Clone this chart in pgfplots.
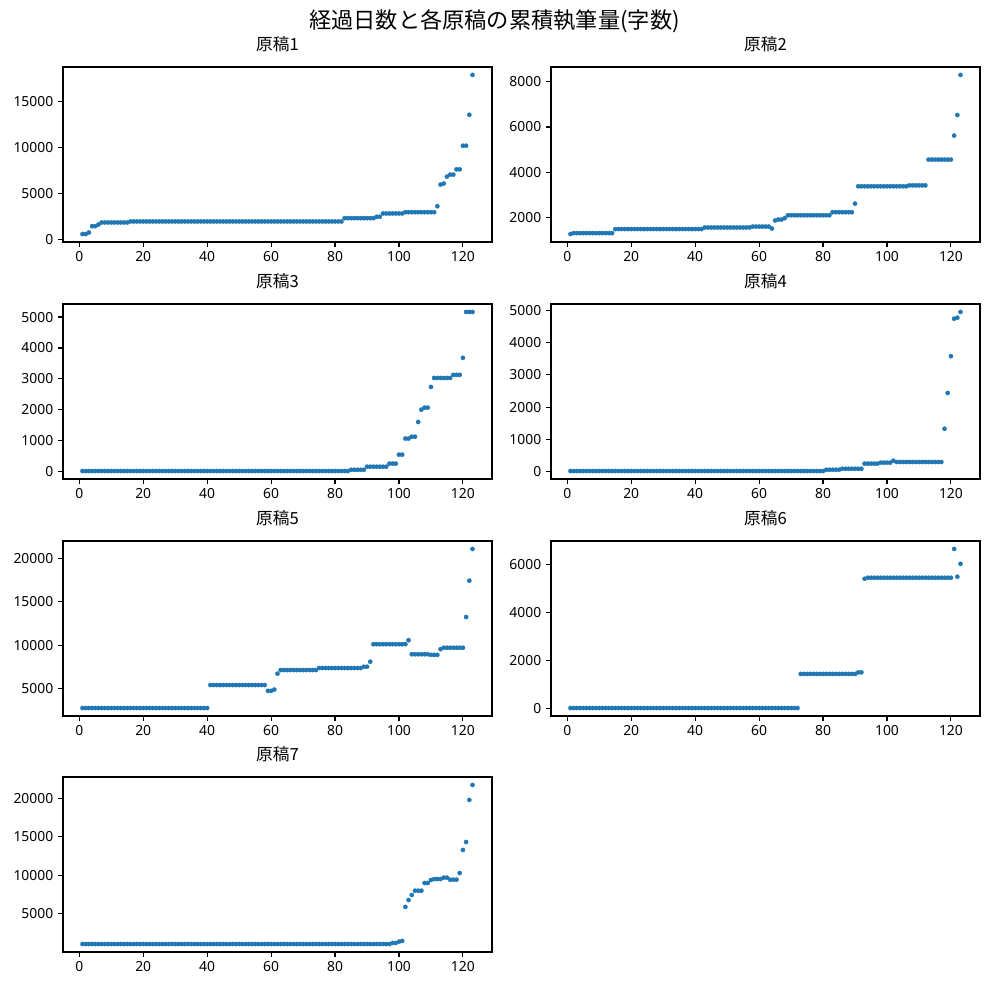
\documentclass[border=0pt]{standalone}
\usepackage{fontspec}
\setmainfont{Noto Sans CJK JP}
\newfontfamily\tickfont{Noto Sans}
\usepackage{pgfplots}
\usepackage{pgfplotstable}
\pgfplotsset{compat=1.18}
\definecolor{mplblue}{HTML}{1F77B4}
\pgfplotstableread{
x s1 s2 s3 s4 s5 s6 s7
1 550 1270 20 20 2750 30 1100
2 550 1310 20 20 2750 30 1100
3 720 1310 20 20 2750 30 1100
4 1410 1310 20 20 2750 30 1100
5 1410 1310 20 20 2750 30 1100
6 1590 1310 20 20 2750 30 1100
7 1810 1310 20 20 2750 30 1100
8 1810 1310 20 20 2750 30 1100
9 1810 1310 20 20 2750 30 1100
10 1810 1310 20 20 2750 30 1100
11 1810 1310 20 20 2750 30 1100
12 1810 1310 20 20 2750 30 1100
13 1810 1310 20 20 2750 30 1100
14 1810 1310 20 20 2750 30 1100
15 1810 1490 20 20 2750 30 1100
16 1920 1490 20 20 2750 30 1100
17 1920 1490 20 20 2750 30 1100
18 1920 1490 20 20 2750 30 1100
19 1920 1490 20 20 2750 30 1100
20 1920 1490 20 20 2750 30 1100
21 1920 1490 20 20 2750 30 1100
22 1920 1490 20 20 2750 30 1100
23 1920 1490 20 20 2750 30 1100
24 1920 1490 20 20 2750 30 1100
25 1920 1490 20 20 2750 30 1100
26 1920 1490 20 20 2750 30 1100
27 1920 1490 20 20 2750 30 1100
28 1920 1490 20 20 2750 30 1100
29 1920 1490 20 20 2750 30 1100
30 1920 1490 20 20 2750 30 1100
31 1920 1490 20 20 2750 30 1100
32 1920 1490 20 20 2750 30 1100
33 1920 1490 20 20 2750 30 1100
34 1920 1490 20 20 2750 30 1100
35 1920 1490 20 20 2750 30 1100
36 1920 1490 20 20 2750 30 1100
37 1920 1490 20 20 2750 30 1100
38 1920 1490 20 20 2750 30 1100
39 1920 1490 20 20 2750 30 1100
40 1920 1490 20 20 2750 30 1100
41 1920 1490 20 20 5400 30 1100
42 1920 1490 20 20 5400 30 1100
43 1920 1560 20 20 5400 30 1100
44 1920 1560 20 20 5400 30 1100
45 1920 1560 20 20 5400 30 1100
46 1920 1560 20 20 5400 30 1100
47 1920 1560 20 20 5400 30 1100
48 1920 1560 20 20 5400 30 1100
49 1920 1560 20 20 5400 30 1100
50 1920 1560 20 20 5400 30 1100
51 1920 1560 20 20 5400 30 1100
52 1920 1560 20 20 5400 30 1100
53 1920 1560 20 20 5400 30 1100
54 1920 1560 20 20 5400 30 1100
55 1920 1560 20 20 5400 30 1100
56 1920 1560 20 20 5400 30 1100
57 1920 1560 20 20 5400 30 1100
58 1920 1600 20 20 5400 30 1100
59 1920 1600 20 20 4730 30 1100
60 1920 1600 20 20 4730 30 1100
61 1920 1600 20 20 4880 30 1100
62 1920 1600 20 20 6710 30 1100
63 1920 1600 20 20 7130 30 1100
64 1920 1515 20 20 7130 30 1100
65 1920 1870 20 20 7130 30 1100
66 1920 1910 20 20 7130 30 1100
67 1920 1910 20 20 7130 30 1100
68 1920 1970 20 20 7130 30 1100
69 1920 2100 20 20 7130 30 1100
70 1920 2100 20 20 7130 30 1100
71 1920 2100 20 20 7130 30 1100
72 1920 2100 20 20 7130 30 1100
73 1920 2100 20 20 7130 1445 1100
74 1920 2100 20 20 7130 1445 1100
75 1920 2100 20 20 7360 1445 1100
76 1920 2100 20 20 7360 1445 1100
77 1920 2100 20 20 7360 1445 1100
78 1920 2100 20 20 7360 1445 1100
79 1920 2100 20 20 7360 1445 1100
80 1920 2100 20 20 7360 1445 1100
81 1920 2100 20 60 7360 1445 1100
82 1920 2100 20 60 7360 1445 1100
83 2280 2235 20 60 7360 1445 1100
84 2280 2235 20 60 7360 1445 1100
85 2280 2235 60 60 7360 1445 1100
86 2280 2235 60 90 7360 1445 1100
87 2280 2235 60 90 7360 1445 1100
88 2280 2235 60 90 7360 1445 1100
89 2280 2235 60 90 7510 1445 1100
90 2280 2615 160 90 7510 1445 1100
91 2280 3380 160 90 8090 1510 1100
92 2280 3380 160 90 10110 1510 1100
93 2430 3380 160 250 10110 5394 1100
94 2430 3380 160 250 10110 5435 1100
95 2790 3380 160 250 10110 5435 1100
96 2790 3380 160 250 10110 5435 1100
97 2790 3380 260 250 10110 5435 1100
98 2790 3380 260 280 10110 5435 1240
99 2790 3380 260 280 10110 5435 1240
100 2790 3380 550 280 10110 5435 1410
101 2790 3380 550 280 10110 5435 1500
102 2930 3380 1070 340 10110 5435 5910
103 2930 3380 1070 300 10570 5435 6800
104 2930 3380 1130 300 8950 5435 7450
105 2930 3380 1130 300 8950 5435 8010
106 2930 3380 1606 300 8950 5435 8010
107 2930 3420 2005 300 8950 5435 8010
108 2930 3420 2070 300 8950 5435 9010
109 2930 3420 2070 300 8950 5435 9010
110 2930 3420 2740 300 8880 5435 9400
111 2930 3420 3030 300 8880 5435 9520
112 3580 3420 3030 300 8880 5435 9520
113 5940 4560 3030 300 9540 5435 9520
114 6050 4560 3030 300 9700 5435 9700
115 6800 4560 3030 300 9700 5435 9700
116 7020 4560 3030 300 9700 5435 9440
117 7020 4560 3130 300 9700 5435 9440
118 7600 4560 3130 1330 9700 5435 9440
119 7600 4560 3130 2440 9700 5435 10300
120 10170 4560 3680 3580 9700 5435 13290
121 10170 5620 5165 4740 13240 6630 14320
122 13540 6530 5165 4770 17430 5477 19770
123 17880 8300 5165 4950 21090 6013 21710
}\data
\pgfplotsset{
  sub/.style={
    scale only axis, width=308.88pt, height=126pt, anchor=south west,
    xmin=-5.1, xmax=129.1, enlarge y limits=0.05,
    xtick={0,20,...,120}, minor tick num=0,
    tick align=outside, xtick pos=left, ytick pos=left,
    major tick length=3.5pt,
    every tick/.style={line width=0.8pt, black},
    axis line style={line width=0.8pt},
    tick label style={font=\tickfont\fontsize{10}{12}\selectfont},
    /pgf/number format/assume math mode=true,
    /pgf/number format/1000 sep={},
    scaled y ticks=false,
    title style={at={(0.5,1)}, anchor=center, yshift=10.4pt, inner sep=0pt, font=\fontsize{12}{14}\selectfont},
  },
  pts/.style={only marks, mark=*, mark size=1.55pt, color=mplblue, mark options={line width=0.2pt, draw=mplblue, fill=mplblue, solid}},
}
\begin{document}
\begin{tikzpicture}
\path[use as bounding box] (0,0) rectangle (712.08pt,709.2pt);
\node[font=\fontsize{16}{19}\selectfont, inner sep=0pt] at (356.04pt,694.08pt) {経過日数と各原稿の累積執筆量(字数)};
\begin{axis}[sub, at={(45.36pt,534.96pt)}, title={原稿1}, ytick={0,5000,10000,15000}]
\addplot[pts] table[x=x, y=s1] {\data};
\end{axis}
\begin{axis}[sub, at={(396.72pt,534.96pt)}, title={原稿2}, ytick={2000,4000,6000,8000}]
\addplot[pts] table[x=x, y=s2] {\data};
\end{axis}
\begin{axis}[sub, at={(45.36pt,364.32pt)}, title={原稿3}, ytick={0,1000,...,5000}]
\addplot[pts] table[x=x, y=s3] {\data};
\end{axis}
\begin{axis}[sub, at={(396.72pt,364.32pt)}, title={原稿4}, ytick={0,1000,...,5000}]
\addplot[pts] table[x=x, y=s4] {\data};
\end{axis}
\begin{axis}[sub, at={(45.36pt,193.68pt)}, title={原稿5}, ytick={5000,10000,15000,20000}]
\addplot[pts] table[x=x, y=s5] {\data};
\end{axis}
\begin{axis}[sub, at={(396.72pt,193.68pt)}, title={原稿6}, ytick={0,2000,4000,6000}]
\addplot[pts] table[x=x, y=s6] {\data};
\end{axis}
\begin{axis}[sub, at={(45.36pt,23.76pt)}, title={原稿7}, ytick={5000,10000,15000,20000}]
\addplot[pts] table[x=x, y=s7] {\data};
\end{axis}
\end{tikzpicture}
\end{document}
